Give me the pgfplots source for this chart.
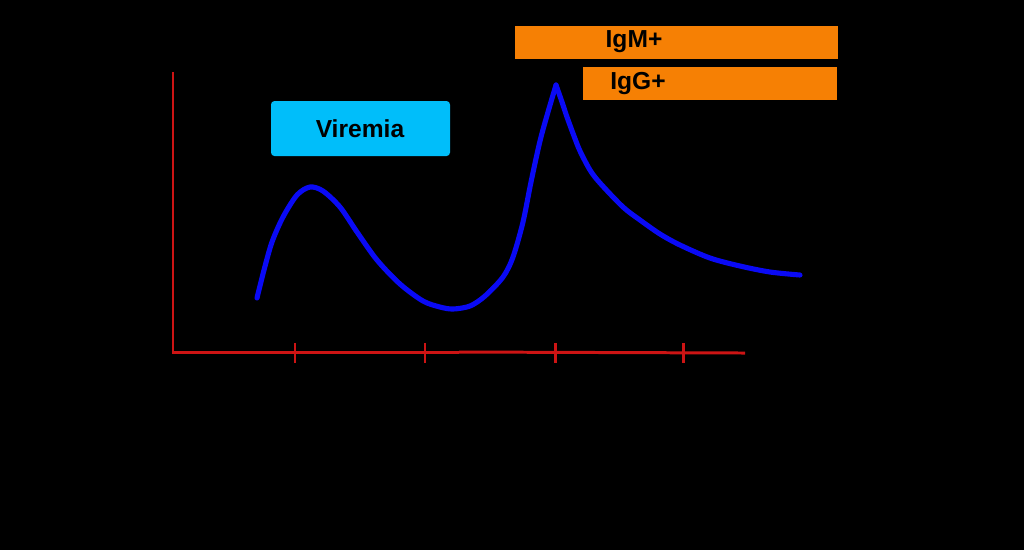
\documentclass[border=0pt]{standalone}
\usepackage{fontspec}
\setmainfont{Liberation Sans}
\usepackage{pgfplots}
\pgfplotsset{compat=1.18}
\definecolor{vcyan}{RGB}{0,190,250}
\definecolor{iorange}{RGB}{246,128,4}
\definecolor{rline}{RGB}{205,20,20}
\definecolor{bline}{RGB}{10,10,245}
\begin{document}
\begin{tikzpicture}
\fill[black] (0,0) rectangle (10.24,5.5);
\begin{axis}[
  at={(0,0)}, anchor=south west,
  width=10.24cm, height=5.5cm, scale only axis,
  xmin=0, xmax=1024, ymin=0, ymax=550,
  hide axis, clip=false
]
% red axes (y = 550 - pixel row)
\addplot[rline, line width=0.85pt] coordinates {(173,478) (173,198) (459,198)};
\addplot[rline, line width=0.85pt] coordinates {(459,198) (745,197)};
% ticks
\addplot[rline, line width=0.85pt] coordinates {(295,207) (295,187)};
\addplot[rline, line width=0.85pt] coordinates {(425,207) (425,187)};
\addplot[rline, line width=0.85pt] coordinates {(555,207) (555,187)};
\addplot[rline, line width=0.85pt] coordinates {(683,207) (683,187)};
% blue curve, rising part
\addplot[bline, line width=1.45pt, smooth, line cap=round] coordinates {
(257,252) (264,280) (272,308) (283,333) (297,355) (310,363) (323,359)
(340,343) (357,318) (377,290) (400,266) (423,249) (440,243) (453,241)
(470,244) (485,254) (503,273) (513,293) (523,328) (531,368) (540,409)
(548,438) (556,465)};
% blue curve, falling part
\addplot[bline, line width=1.45pt, smooth, line cap=round] coordinates {
(556,465) (562,448) (567,433) (574,414) (580,399) (590,380) (600,367)
(623,343) (640,330) (660,316) (680,305) (710,292) (740,284) (770,278) (800,275)};
% boxes
\fill[vcyan, rounded corners=1pt] (axis cs:271,394) rectangle (axis cs:450,449);
\node[font=\fontsize{7}{8}\selectfont\bfseries, text=black] at (axis cs:360,421) {Viremia};
\fill[iorange] (axis cs:515,491) rectangle (axis cs:838,524);
\node[font=\fontsize{7}{8}\selectfont\bfseries, text=black] at (axis cs:634,508) {IgM+};
\fill[iorange] (axis cs:583,450) rectangle (axis cs:837,483);
\node[font=\fontsize{7}{8}\selectfont\bfseries, text=black] at (axis cs:638,467) {IgG+};
\end{axis}
\end{tikzpicture}
\end{document}
